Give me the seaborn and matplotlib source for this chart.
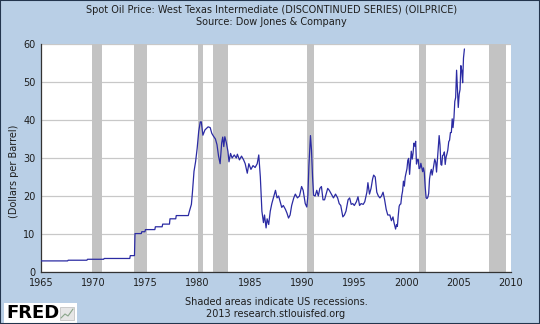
import matplotlib
matplotlib.use("Agg")
import matplotlib.pyplot as plt
from matplotlib.patches import Rectangle
from matplotlib.lines import Line2D
import seaborn as sns
import pandas as pd

# ---- data ----
dates = [1965.0, 1967.55, 1967.6, 1969.4, 1969.45, 1971.0, 1971.05, 1973.5, 1973.55, 1973.95,
         1974.0, 1974.6, 1974.65, 1974.95, 1975.0, 1975.9, 1975.95, 1976.6, 1976.65, 1977.3,
         1977.35, 1977.9, 1977.95, 1979.1,
         1979.2, 1979.4, 1979.5, 1979.65, 1979.8, 1979.95, 1980.1, 1980.25, 1980.35, 1980.5,
         1980.7, 1981.0, 1981.2, 1981.35, 1981.5, 1981.7, 1981.85, 1982.0, 1982.15, 1982.3,
         1982.4, 1982.5, 1982.6, 1982.75, 1982.9, 1983.0, 1983.15, 1983.3, 1983.5, 1983.7,
         1983.8, 1984.0, 1984.2, 1984.4, 1984.55, 1984.75, 1984.9, 1985.1, 1985.3, 1985.5,
         1985.7, 1985.85, 1986.0, 1986.15, 1986.3, 1986.4, 1986.55, 1986.65, 1986.8, 1986.95,
         1987.1, 1987.3, 1987.45, 1987.6, 1987.75, 1987.9, 1988.05, 1988.2, 1988.4, 1988.55,
         1988.7, 1988.85, 1989.0, 1989.2, 1989.35, 1989.55, 1989.75, 1989.95, 1990.1, 1990.3,
         1990.45, 1990.55, 1990.65, 1990.8, 1990.9, 1991.0, 1991.1, 1991.25, 1991.4, 1991.55,
         1991.7, 1991.85, 1992.0, 1992.15, 1992.3, 1992.45, 1992.6, 1992.8, 1993.0, 1993.2,
         1993.4, 1993.55, 1993.7, 1993.9, 1994.05, 1994.2, 1994.4, 1994.55, 1994.7, 1994.85,
         1995.0, 1995.2, 1995.35, 1995.5, 1995.65, 1995.85, 1996.0, 1996.2, 1996.3, 1996.45,
         1996.6, 1996.75, 1996.85, 1997.0, 1997.15, 1997.3, 1997.45, 1997.6, 1997.75, 1997.9,
         1998.05, 1998.2, 1998.4, 1998.55, 1998.7, 1998.8, 1998.95,
         1999.04, 1999.12, 1999.2, 1999.29, 1999.37, 1999.45, 1999.54, 1999.62, 1999.7, 1999.79,
         1999.87, 1999.95, 2000.04, 2000.12, 2000.2, 2000.29, 2000.37, 2000.45, 2000.54, 2000.62,
         2000.7, 2000.79, 2000.87, 2000.95, 2001.04, 2001.12, 2001.2, 2001.29, 2001.37, 2001.45,
         2001.54, 2001.62, 2001.7, 2001.79, 2001.87, 2001.95, 2002.04, 2002.12, 2002.2, 2002.29,
         2002.37, 2002.45, 2002.54, 2002.62, 2002.7, 2002.79, 2002.87, 2002.95, 2003.04, 2003.12,
         2003.2, 2003.29, 2003.37, 2003.45, 2003.54, 2003.62, 2003.7, 2003.79, 2003.87, 2003.95,
         2004.04, 2004.12, 2004.2, 2004.29, 2004.37, 2004.45, 2004.54, 2004.62, 2004.7, 2004.79,
         2004.87, 2004.95, 2005.04, 2005.12, 2005.2, 2005.29, 2005.37, 2005.45, 2005.54]
prices = [2.92, 2.92, 3.10, 3.10, 3.35, 3.35, 3.56, 3.56, 4.31, 4.31,
          10.11, 10.11, 10.6, 10.6, 11.16, 11.16, 11.9, 11.9, 12.6, 12.6,
          14.0, 14.0, 14.85, 14.85,
          15.9, 17.8, 21.0, 26.5, 29.0, 32.5, 37.0, 39.5, 39.5, 36.0,
          37.4, 38.2, 38.0, 36.5, 35.8, 35.0, 33.5, 30.5, 28.5, 34.0,
          35.5, 33.0, 35.6, 34.0, 31.7, 29.0, 31.2, 30.0, 30.8, 30.0,
          31.0, 29.5, 30.5, 29.5, 28.5, 26.0, 28.5, 27.0, 28.0, 27.5,
          28.5, 30.8, 25.0, 16.0, 13.0, 15.0, 11.6, 14.0, 12.5, 16.0,
          18.0, 20.0, 21.5, 19.5, 20.0, 18.5, 17.0, 17.5, 16.5, 15.5,
          14.2, 15.0, 17.5, 19.5, 20.5, 19.5, 20.0, 22.5, 21.5, 18.0,
          17.1, 20.0, 28.0, 35.9, 32.0, 25.0, 20.2, 20.0, 21.5, 20.0,
          22.0, 22.5, 19.0, 19.0, 20.5, 22.0, 21.5, 20.5, 19.5, 20.5,
          19.5, 18.0, 17.5, 14.5, 15.0, 16.0, 19.0, 19.5, 17.8, 18.0,
          17.5, 18.5, 19.8, 17.5, 18.0, 17.8, 18.5, 21.0, 23.5, 20.5,
          22.0, 24.5, 25.5, 25.0, 21.0, 20.0, 19.5, 20.0, 21.0, 19.0,
          16.5, 15.0, 15.0, 13.5, 14.5, 13.0, 11.3,
          12.5, 12.0, 14.7, 17.3, 17.8, 17.9, 20.1, 21.3, 23.9, 22.6,
          25.0, 26.1, 27.2, 29.4, 29.9, 25.7, 28.8, 31.8, 29.7, 31.2,
          33.9, 33.1, 34.4, 28.4, 29.6, 29.6, 27.2, 27.4, 28.6, 27.6,
          26.4, 27.4, 26.2, 22.2, 19.6, 19.3, 19.7, 20.7, 24.5, 26.2,
          27.0, 25.5, 26.9, 28.4, 29.7, 28.9, 26.3, 29.4, 32.9, 35.9,
          33.5, 28.3, 28.1, 30.7, 30.8, 31.6, 28.3, 30.3, 31.1, 32.1,
          34.3, 34.7, 36.7, 36.7, 40.3, 38.0, 40.7, 44.9, 45.9, 53.1,
          48.5, 43.3, 46.8, 48.0, 54.3, 53.0, 49.8, 56.3, 58.7]

recession_starts = [1969.92, 1973.88, 1980.0, 1981.5, 1990.5, 2001.17, 2007.92]
recession_ends = [1970.88, 1975.17, 1980.5, 1982.88, 1991.17, 2001.88, 2009.5]

x_ticks = [1965, 1970, 1975, 1980, 1985, 1990, 1995, 2000, 2005, 2010]
y_ticks = [0, 10, 20, 30, 40, 50, 60]

title_lines = ["Spot Oil Price: West Texas Intermediate (DISCONTINUED SERIES) (OILPRICE)",
               "Source: Dow Jones & Company"]
footer_lines = ["Shaded areas indicate US recessions.", "2013 research.stlouisfed.org"]
y_label = "(Dollars per Barrel)"

# ---- style ----
sns.set_style("white")
plt.rcParams['font.family'] = ['DejaVu Sans']

BG = '#b9cfe6'
TXT = '#1e1e1e'

fig = plt.figure(figsize=(5.4, 3.24), dpi=100)
fig.patch.set_facecolor(BG)
ax = fig.add_axes([41/540, 52/324, 470/540, 228/324])
ax.set_facecolor('white')

for s, e in zip(recession_starts, recession_ends):
    ax.axvspan(s, e, color='#c3c3c3', lw=0, zorder=1)

df = pd.DataFrame({'date': dates, 'price': prices})
sns.lineplot(data=df, x='date', y='price', ax=ax, color='#2b2ba3', linewidth=0.9,
             estimator=None, sort=False, zorder=3)

ax.set_xlim(1965, 2010)
ax.set_ylim(0, 60)
ax.set_xticks(x_ticks)
ax.set_yticks(y_ticks)
ax.yaxis.grid(True, color='#c8c8c8', linewidth=0.9, zorder=2)
ax.set_axisbelow(True)
ax.xaxis.grid(False)
for side in ['top', 'right']:
    ax.spines[side].set_visible(False)
for side in ['left', 'bottom']:
    ax.spines[side].set_color('#333333')
    ax.spines[side].set_linewidth(0.9)
ax.tick_params(axis='both', direction='in', length=4, width=0.8, color='#333333',
               labelsize=7, labelcolor=TXT)
ax.tick_params(axis='x', pad=4)
ax.tick_params(axis='y', pad=4)
ax.set_xlabel('')
ax.set_ylabel('')

fig.text(14/540, 1 - 171/324, y_label, rotation=90, ha='center', va='center',
         fontsize=7, color=TXT)

fig.text(0.503, 1 - 10/324, title_lines[0], ha='center', va='center', fontsize=7, color=TXT)
fig.text(0.503, 1 - 22/324, title_lines[1], ha='center', va='center', fontsize=7, color=TXT)
fig.text(0.511, 1 - 302/324, footer_lines[0], ha='center', va='center', fontsize=7, color=TXT)
fig.text(0.511, 1 - 314/324, footer_lines[1], ha='center', va='center', fontsize=7, color=TXT)

# FRED logo
fig.patches.append(Rectangle((4/540, 0), 73/540, 21/324, transform=fig.transFigure,
                             facecolor='white', edgecolor='none', zorder=5))
fig.text(6/540, 1 - 313/324, "FRED", ha='left', va='center', fontsize=13,
         fontweight='bold', color='black', zorder=6)
fig.patches.append(Rectangle((60/540, 4/324), 14/540, 13/324, transform=fig.transFigure,
                             facecolor='#e6e6e6', edgecolor='#bbbbbb', lw=0.5, zorder=6))
fig.lines.append(Line2D([61/540, 65/540, 68/540, 73/540], [6/324, 10/324, 8/324, 15/324],
                        transform=fig.transFigure, color='#8aa68a', lw=0.8, zorder=7))

# border
fig.patches.append(Rectangle((0, 0), 1, 1, transform=fig.transFigure, facecolor='none',
                             edgecolor='#23354d', lw=1.5, zorder=10))

fig.savefig('out.png', dpi=100, facecolor=BG)
